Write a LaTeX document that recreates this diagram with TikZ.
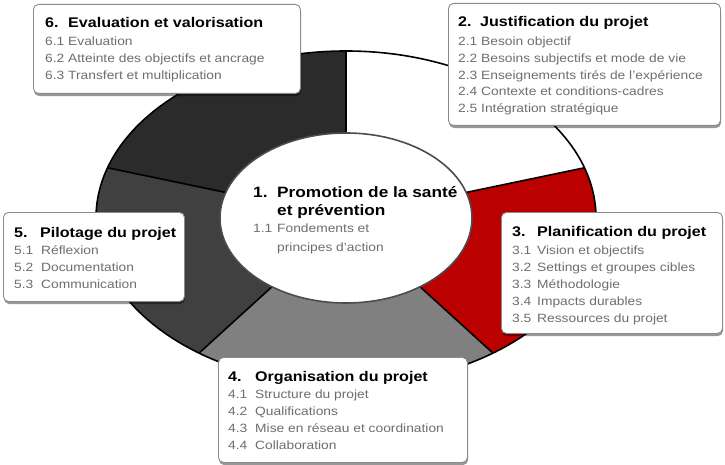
\documentclass[tikz,border=0pt]{standalone}
\usepackage{fontspec}
\setmainfont{Liberation Sans}[FakeStretch=1.15]
\usetikzlibrary{shadows}
\definecolor{segsix}{HTML}{2B2B2B}
\definecolor{segfive}{HTML}{404040}
\definecolor{segfour}{HTML}{808080}
\definecolor{segthree}{HTML}{BB0000}
\definecolor{itemgray}{HTML}{6E6E6E}
\definecolor{boxline}{HTML}{8A8A8A}
\newcommand\ringseg[3]{\fill[#3] ({\cx+\Rx*cos(#1)},{\cy+\Ry*sin(#1)}) arc[start angle=#1, end angle=#2, x radius=\Rx, y radius=\Ry] -- ({\cx+\rx*cos(#2)},{\cy+\ry*sin(#2)}) arc[start angle=#2, end angle=#1, x radius=\rx, y radius=\ry] -- cycle;}
\newcommand\ringdiv[1]{\draw[line width=1.6pt] ({\cx+\rx*cos(#1)},{\cy+\ry*sin(#1)}) -- ({\cx+\Rx*cos(#1)},{\cy+\Ry*sin(#1)});}
\tikzset{
  infobox/.style={draw=boxline, line width=0.9pt, fill=white, rounded corners=5pt, anchor=north west, inner sep=0pt,
    drop shadow={shadow xshift=0.6pt, shadow yshift=-2.6pt, fill=black, opacity=0.4}},
  ttl/.style={anchor=base west, inner sep=0pt, font=\fontsize{14}{14}\selectfont\bfseries},
  ctl/.style={anchor=base west, inner sep=0pt, font=\fontsize{15}{15}\selectfont\bfseries},
  itm/.style={anchor=base west, inner sep=0pt, font=\fontsize{12}{12}\selectfont, text=itemgray}
}
\begin{document}
\begin{tikzpicture}[x=1pt,y=-1pt]
\useasboundingbox (0,0) rectangle (725,465);
\def\cx{346}\def\cy{218}\def\Rx{250}\def\Ry{167}\def\rx{126}\def\ry{85}
\coordinate (c) at (\cx,\cy);
% ring segments
\ringseg{-162.5}{-90}{segsix}
\ringseg{-90}{-17.5}{white}
\ringseg{-17.5}{54}{segthree}
\ringseg{54}{126}{segfour}
\ringseg{126}{197.5}{segfive}
\draw[line width=1.6pt] (c) ellipse[x radius=\Rx, y radius=\Ry];
\ringdiv{-90}
\ringdiv{-17.5}
\ringdiv{54}
\ringdiv{126}
\ringdiv{197.5}
% inner ellipse
\draw[fill=white, draw=black!70, line width=1.6pt] (c) ellipse[x radius=\rx, y radius=\ry];
\node[ctl] (t1n) at (253,197) {1.};
\node[ctl] (t1a) at (277,197) {Promotion de la santé};
\node[ctl] (t1b) at (277,215) {et prévention};
\node[itm] (i11n) at (253,233) {1.1};
\node[itm] (i11a) at (277,233) {Fondements et};
\node[itm] (i11b) at (277,251) {principes d’action};
% box 6
\node[infobox, minimum width=267pt, minimum height=89pt] (b6) at (33,4) {};
\node[ttl] (t6n) at (45,28) {6.};
\node[ttl] (t6) at (68,28) {Evaluation et valorisation};
\node[itm] (i61) at (45,46) {6.1 Evaluation};
\node[itm] (i62) at (45,63) {6.2 Atteinte des objectifs et ancrage};
\node[itm] (i63) at (45,80) {6.3 Transfert et multiplication};
% box 2
\node[infobox, minimum width=272pt, minimum height=122pt] (b2) at (448,3) {};
\node[ttl] (t2n) at (458,27) {2.};
\node[ttl] (t2) at (480,27) {Justification du projet};
\node[itm] (i21) at (458,46) {2.1 Besoin objectif};
\node[itm] (i22) at (458,63) {2.2 Besoins subjectifs et mode de vie};
\node[itm] (i23) at (458,79.5) {2.3 Enseignements tirés de l’expérience};
\node[itm] (i24) at (458,96) {2.4 Contexte et conditions-cadres};
\node[itm] (i25) at (458,113) {2.5 Intégration stratégique};
% box 3
\node[infobox, minimum width=221pt, minimum height=121pt] (b3) at (501,212) {};
\node[ttl] (t3n) at (512,236) {3.};
\node[ttl] (t3) at (537,236) {Planification du projet};
\node[itm] (i31n) at (512,254) {3.1};
\node[itm] (i31) at (537,254) {Vision et objectifs};
\node[itm] (i32n) at (512,271) {3.2};
\node[itm] (i32) at (537,271) {Settings et groupes cibles};
\node[itm] (i33n) at (512,288) {3.3};
\node[itm] (i33) at (537,288) {Méthodologie};
\node[itm] (i34n) at (512,305) {3.4};
\node[itm] (i34) at (537,305) {Impacts durables};
\node[itm] (i35n) at (512,322) {3.5};
\node[itm] (i35) at (537,322) {Ressources du projet};
% box 5
\node[infobox, minimum width=181pt, minimum height=89pt] (b5) at (3,212) {};
\node[ttl] (t5n) at (14,237) {5.};
\node[ttl] (t5) at (40,237) {Pilotage du projet};
\node[itm] (i51n) at (14,254) {5.1};
\node[itm] (i51) at (41,254) {Réflexion};
\node[itm] (i52n) at (14,271) {5.2};
\node[itm] (i52) at (41,271) {Documentation};
\node[itm] (i53n) at (14,288) {5.3};
\node[itm] (i53) at (41,288) {Communication};
% box 4
\node[infobox, minimum width=249pt, minimum height=105pt] (b4) at (218,357) {};
\node[ttl] (t4n) at (228,381) {4.};
\node[ttl] (t4) at (255,381) {Organisation du projet};
\node[itm] (i41n) at (228,398) {4.1};
\node[itm] (i41) at (255,398) {Structure du projet};
\node[itm] (i42n) at (228,415) {4.2};
\node[itm] (i42) at (255,415) {Qualifications};
\node[itm] (i43n) at (228,432) {4.3};
\node[itm] (i43) at (255,432) {Mise en réseau et coordination};
\node[itm] (i44n) at (228,449) {4.4};
\node[itm] (i44) at (255,449) {Collaboration};
\end{tikzpicture}
\end{document}
